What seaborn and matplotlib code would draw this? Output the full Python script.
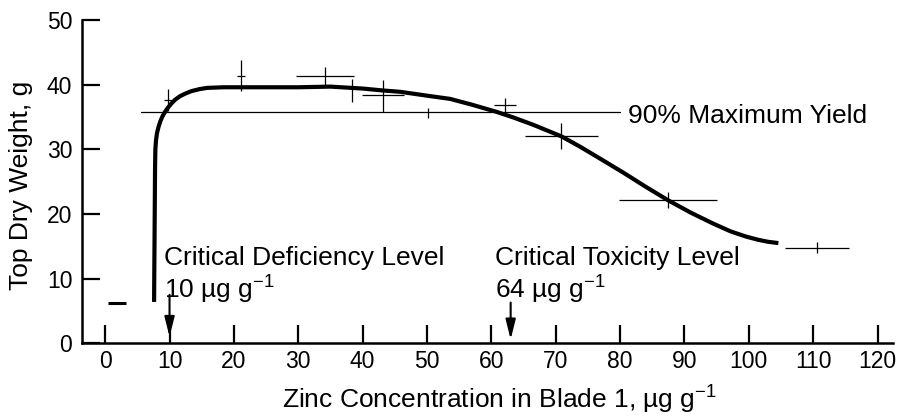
import numpy as np
import matplotlib
matplotlib.use("Agg")
import matplotlib.pyplot as plt
import seaborn as sns

# Zinc response data
zinc = [9.7, 21.1, 34.2, 38.3, 43.2, 50.1, 62.1, 70.9, 87.4, 110.6]
weight = [37.6, 41.4, 41.4, 39.3, 38.4, 35.6, 36.9, 32.0, 22.2, 14.8]
# ends of the horizontal / vertical bars
zinc_lo = [9.2, 20.5, 29.7, 38.3, 39.9, 50.1, 60.4, 65.2, 79.9, 105.6]
zinc_hi = [10.4, 21.7, 38.6, 38.3, 46.5, 50.1, 63.8, 76.6, 95.0, 115.6]
weight_lo = [36.0, 39.0, 39.8, 37.3, 35.7, 34.9, 35.8, 30.0, 21.0, 14.0]
weight_hi = [39.3, 43.8, 42.8, 40.9, 40.7, 36.4, 38.0, 34.0, 23.4, 15.7]

# low-zinc point (horizontal bar only)
low_zinc = [1.9]
low_weight = [6.2]
low_zinc_lo = [0.5]
low_zinc_hi = [3.3]

# fitted response curve
curve_x = [7.6, 7.7, 7.75, 7.8, 7.9, 8.05, 8.3, 8.6, 8.9, 9.3, 9.8, 10.3, 10.9,
           11.6, 12.4, 13.4, 14.6, 15.8, 18.4, 25.0, 30.0, 35.0, 40.0, 43.2,
           45.8, 50.0, 53.6, 55.1, 57.0, 60.8, 63.5, 66.5, 70.9, 73.8, 77.0,
           80.5, 84.0, 87.5, 91.0, 94.5, 97.2, 99.6, 101.5, 103.0, 104.6]
curve_y = [6.4, 20.0, 27.0, 30.0, 31.4, 32.5, 33.5, 34.4, 35.1, 35.8, 36.5, 37.1,
           37.7, 38.2, 38.6, 39.0, 39.3, 39.5, 39.6, 39.6, 39.6, 39.7, 39.4,
           39.1, 38.9, 38.3, 37.8, 37.4, 36.9, 35.8, 34.9, 33.8, 32.0, 30.4,
           28.5, 26.4, 24.2, 22.1, 20.2, 18.5, 17.3, 16.5, 16.0, 15.7, 15.5]

yield90 = 35.7
yield90_x = [5.6, 80.0]
def_level = 10
tox_level = 63

sns.set_style("ticks")
plt.rcParams["font.family"] = ["Liberation Sans", "DejaVu Sans"]
plt.rcParams["mathtext.fontset"] = "custom"
plt.rcParams["mathtext.rm"] = "Liberation Sans"
plt.rcParams["mathtext.it"] = "Liberation Sans:italic"
plt.rcParams["mathtext.bf"] = "Liberation Sans:bold"
for key in ["text.color", "axes.labelcolor", "xtick.color", "ytick.color",
            "axes.edgecolor"]:
    plt.rcParams[key] = "black"

fig = plt.figure(figsize=(9.04, 4.17), dpi=100)
ax = fig.add_axes([0.0907, 0.1767, 0.8971, 0.7753])

# error crosses
z = np.array(zinc)
w = np.array(weight)
xerr = [z - np.array(zinc_lo), np.array(zinc_hi) - z]
yerr = [w - np.array(weight_lo), np.array(weight_hi) - w]
ax.errorbar(z, w, xerr=xerr, yerr=yerr, fmt="none", ecolor="black",
            elinewidth=0.9, capsize=0)
lz = np.array(low_zinc)
ax.errorbar(lz, low_weight, xerr=[lz - np.array(low_zinc_lo), np.array(low_zinc_hi) - lz],
            fmt="none", ecolor="black", elinewidth=2.2, capsize=0)

# 90% maximum yield line
ax.plot(yield90_x, [yield90, yield90], color="black", lw=0.9)
ax.text(81.3, 34.0, "90% Maximum Yield", fontsize=19, va="baseline", ha="left")

# response curve
sns.lineplot(x=curve_x, y=curve_y, sort=False, estimator=None, color="black",
             lw=3, ax=ax, solid_capstyle="butt", solid_joinstyle="round")

# critical levels
arrow = dict(arrowstyle="-|>,head_length=1.2,head_width=0.3", lw=1.5,
             color="black", mutation_scale=10, shrinkA=0, shrinkB=0)
ax.annotate("", xy=(def_level, 1.0), xytext=(def_level, 7.5), arrowprops=arrow)
ax.annotate("", xy=(tox_level, 0.6), xytext=(tox_level, 6.3), arrowprops=arrow)
ax.text(9.1, 12.1, "Critical Deficiency Level", fontsize=19, va="baseline")
ax.text(9.1, 6.9, r"10 µg g$^{-1}$", fontsize=19, va="baseline")
ax.text(60.6, 12.1, "Critical Toxicity Level", fontsize=19, va="baseline")
ax.text(60.6, 6.9, r"64 µg g$^{-1}$", fontsize=19, va="baseline")

ax.set_xlim(-3.6, 122.4)
ax.set_ylim(0, 50)
ax.set_xticks(range(0, 121, 10))
ax.set_yticks(range(0, 51, 10))
ax.tick_params(axis="both", direction="in", length=13, width=1.6,
               labelsize=16.5, color="black", labelcolor="black")
ax.tick_params(axis="x", pad=4.5)
ax.tick_params(axis="y", pad=7)

sns.despine(ax=ax)
for side in ["left", "bottom"]:
    ax.spines[side].set_linewidth(1.8)
    ax.spines[side].set_color("black")

ax.set_xlabel(r"Zinc Concentration in Blade 1, µg g$^{-1}$", fontsize=19)
ax.set_ylabel("Top Dry Weight, g", fontsize=19)
ax.xaxis.set_label_coords(0.515, -0.125)
ax.yaxis.set_label_coords(-0.06, 0.49)

fig.savefig("out.png", dpi=100)
